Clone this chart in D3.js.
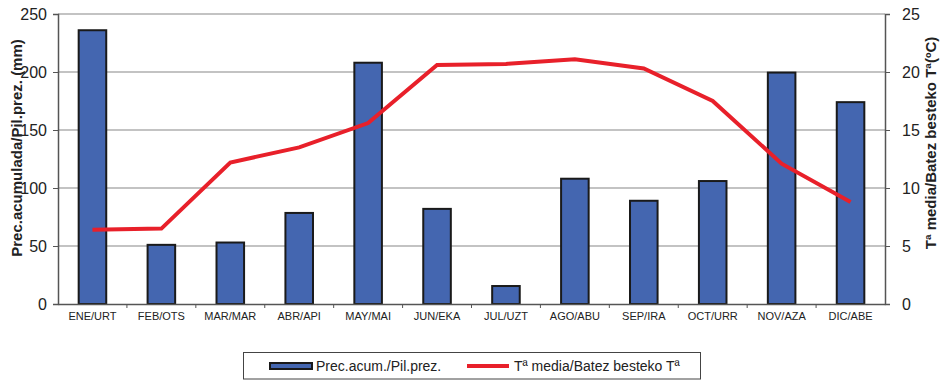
<!DOCTYPE html>
<html><head><meta charset="utf-8">
<script src="https://cdn.jsdelivr.net/npm/d3@7"></script>
<style>body{margin:0;background:#fff;}svg{display:block;font-family:Arial,"Liberation Sans",sans-serif;}</style>
</head><body>
<svg id="c" width="940" height="380"></svg>
<script>
const months = ["ENE/URT","FEB/OTS","MAR/MAR","ABR/API","MAY/MAI","JUN/EKA","JUL/UZT","AGO/ABU","SEP/IRA","OCT/URR","NOV/AZA","DIC/ABE"];
const precip = [236, 51, 53, 78.5, 208, 82, 15.5, 108, 89, 106, 199.5, 174];
const temp = [6.4, 6.5, 12.2, 13.5, 15.6, 20.6, 20.7, 21.1, 20.3, 17.5, 12.1, 8.8];
const leftTicks = [0, 50, 100, 150, 200, 250];
const rightTicks = [0, 5, 10, 15, 20, 25];

const svg = d3.select("#c");
const L = 58, R = 885, T = 14, B = 304;
const x = d3.scaleBand().domain(months).range([L, R]).paddingInner(0.6).paddingOuter(0.3);
const xb = d3.scaleBand().domain(months).range([L, R]);
const yL = d3.scaleLinear().domain([0, 250]).range([B, T]);
const yR = d3.scaleLinear().domain([0, 25]).range([B, T]);

// gridlines
svg.append("g").selectAll("line").data(leftTicks.filter(d => d > 0)).join("line")
  .attr("x1", L).attr("x2", R).attr("y1", d => yL(d)).attr("y2", d => yL(d))
  .attr("stroke", "#888").attr("stroke-width", 1.2);

// bars
svg.append("g").selectAll("rect").data(precip).join("rect")
  .attr("x", (d, i) => x(months[i])).attr("width", x.bandwidth())
  .attr("y", d => yL(d)).attr("height", d => B - yL(d))
  .attr("fill", "#4466b0").attr("stroke", "#1a1a1a").attr("stroke-width", 2);

// line
const line = d3.line().x((d, i) => xb(months[i]) + xb.bandwidth() / 2).y(d => yR(d));
svg.append("path").datum(temp).attr("d", line).attr("fill", "none")
  .attr("stroke", "#e8202a").attr("stroke-width", 4).attr("stroke-linejoin", "miter");

// left axis
const gl = svg.append("g").attr("transform", `translate(${L},0)`)
  .call(d3.axisLeft(yL).tickValues(leftTicks).tickSize(5).tickPadding(6));
gl.select(".domain").attr("stroke", "#555").attr("stroke-width", 1.5);
gl.selectAll(".tick line").attr("stroke", "#555");
gl.selectAll("text").attr("font-size", 16).attr("fill", "#222").style("font-family", "Arial, 'Liberation Sans', sans-serif");

// right axis
const gr = svg.append("g").attr("transform", `translate(${R},0)`)
  .call(d3.axisRight(yR).tickValues(rightTicks).tickSize(5).tickPadding(12));
gr.select(".domain").attr("stroke", "#555").attr("stroke-width", 1.5);
gr.selectAll(".tick line").attr("stroke", "#555");
gr.selectAll("text").attr("font-size", 16).attr("fill", "#222").style("font-family", "Arial, 'Liberation Sans', sans-serif");

// bottom axis
const gb = svg.append("g").attr("transform", `translate(0,${B})`)
  .call(d3.axisBottom(xb).tickSize(0).tickPadding(8));
gb.select(".domain").attr("stroke", "#555").attr("stroke-width", 1.5);
gb.selectAll("text").attr("font-size", 11).attr("fill", "#222").style("font-family", "Arial, 'Liberation Sans', sans-serif");
svg.append("g").selectAll("line").data(months.slice(1)).join("line")
  .attr("x1", d => xb(d)).attr("x2", d => xb(d)).attr("y1", B).attr("y2", B + 4)
  .attr("stroke", "#555");

// axis titles
svg.append("text").attr("transform", `translate(22,148) rotate(-90)`)
  .attr("text-anchor", "middle").attr("font-size", 15).attr("font-weight", "bold").attr("fill", "#222")
  .text("Prec.acumulada/Pil.prez. (mm)");
svg.append("text").attr("transform", `translate(936,143) rotate(-90)`)
  .attr("text-anchor", "middle").attr("font-size", 15).attr("font-weight", "bold").attr("fill", "#222")
  .text("Tª media/Batez besteko Tª(ºC)");

// legend
const lg = svg.append("g");
lg.append("rect").attr("x", 243.5).attr("y", 352.5).attr("width", 457).attr("height", 26.5)
  .attr("fill", "#fff").attr("stroke", "#444").attr("stroke-width", 1);
lg.append("rect").attr("x", 270).attr("y", 363).attr("width", 42).attr("height", 6)
  .attr("fill", "#4466b0").attr("stroke", "#1a1a1a").attr("stroke-width", 2);
lg.append("text").attr("x", 316).attr("y", 371).attr("font-size", 14).attr("fill", "#222").text("Prec.acum./Pil.prez.");
lg.append("line").attr("x1", 467).attr("x2", 509).attr("y1", 366).attr("y2", 366)
  .attr("stroke", "#e8202a").attr("stroke-width", 4);
lg.append("text").attr("x", 514).attr("y", 371).attr("font-size", 14).attr("fill", "#222").text("Tª media/Batez besteko Tª");
</script>
</body></html>
